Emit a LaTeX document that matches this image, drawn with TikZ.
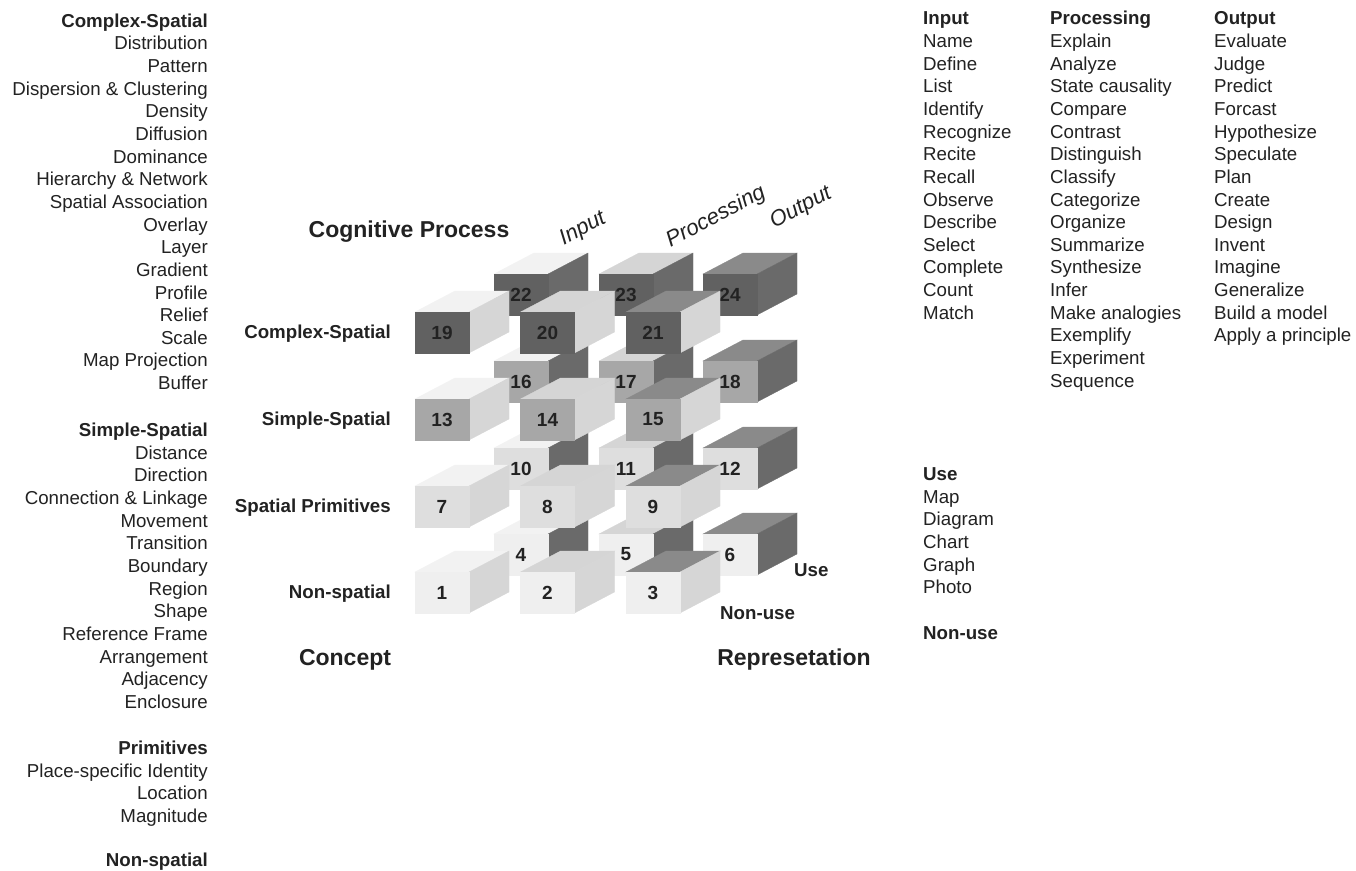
\documentclass[tikz,border=0pt]{standalone}
\usepackage{fontspec}
\setmainfont{Liberation Sans}
\definecolor{fA}{HTML}{616161}
\definecolor{fB}{HTML}{A7A7A7}
\definecolor{fC}{HTML}{DEDEDE}
\definecolor{fD}{HTML}{EFEFEF}
\definecolor{tIn}{HTML}{F2F2F2}
\definecolor{tPr}{HTML}{D5D5D5}
\definecolor{tOut}{HTML}{8A8A8A}
\definecolor{sNon}{HTML}{D6D6D6}
\definecolor{sUse}{HTML}{6A6A6A}
\definecolor{ink}{HTML}{222222}
\tikzset{
  item/.style={font=\fontsize{18.7}{22}\selectfont, text=ink, inner sep=0pt},
  head/.style={font=\bfseries\fontsize{18.7}{22}\selectfont, text=ink, inner sep=0pt},
  big/.style={font=\bfseries\fontsize{23}{26}\selectfont, text=ink, inner sep=0pt},
  axislab/.style={font=\itshape\fontsize{22}{24}\selectfont, text=ink, inner sep=0pt, rotate=28},
  num/.style={font=\bfseries\fontsize{19}{22}\selectfont, text=ink, inner sep=0pt},
}
% #1 name, #2 x, #3 y (front face top-left, pixels), #4 front, #5 top, #6 side, #7 label
\newcommand{\mycube}[7]{%
  \filldraw[fill=#5, draw=#5, line width=0.3pt] (#2,#3) -- ++(54,0) -- ++(40,-21) -- ++(-54,0) -- cycle;
  \filldraw[fill=#6, draw=#6, line width=0.3pt] (#2+54,#3) -- ++(40,-21) -- ++(0,41) -- ++(-40,21) -- cycle;
  \filldraw[fill=#4, draw=#4, line width=0.3pt] (#2,#3) rectangle ++(54,41);
  \node[num] (#1) at (#2+27,#3+20.5) {#7};
}
\begin{document}
\begin{tikzpicture}[x=1pt, y=-1pt]
\fill[white] (0,0) rectangle (1356,870);
\useasboundingbox (0,0) rectangle (1356,870);

% ---------- cubes: back row (Use) ----------
\mycube{c22}{494}{274}{fA}{tIn}{sUse}{22}
\mycube{c23}{599}{274}{fA}{tPr}{sUse}{23}
\mycube{c24}{703}{274}{fA}{tOut}{sUse}{24}
\mycube{c16}{494}{361}{fB}{tIn}{sUse}{16}
\mycube{c17}{599}{361}{fB}{tPr}{sUse}{17}
\mycube{c18}{703}{361}{fB}{tOut}{sUse}{18}
\mycube{c10}{494}{448}{fC}{tIn}{sUse}{10}
\mycube{c11}{599}{448}{fC}{tPr}{sUse}{11}
\mycube{c12}{703}{448}{fC}{tOut}{sUse}{12}
\mycube{c4}{494}{534}{fD}{tIn}{sUse}{4}
\mycube{c5}{599}{534}{fD}{tPr}{sUse}{5}
\mycube{c6}{703}{534}{fD}{tOut}{sUse}{6}
% ---------- cubes: front row (Non-use) ----------
\mycube{c19}{415}{312}{fA}{tIn}{sNon}{19}
\mycube{c20}{520.5}{312}{fA}{tPr}{sNon}{20}
\mycube{c21}{626}{312}{fA}{tOut}{sNon}{21}
\mycube{c13}{415}{399}{fB}{tIn}{sNon}{13}
\mycube{c14}{520.5}{399}{fB}{tPr}{sNon}{14}
\mycube{c15}{626}{399}{fB}{tOut}{sNon}{15}
\mycube{c7}{415}{486}{fC}{tIn}{sNon}{7}
\mycube{c8}{520.5}{486}{fC}{tPr}{sNon}{8}
\mycube{c9}{626}{486}{fC}{tOut}{sNon}{9}
\mycube{c1}{415}{572}{fD}{tIn}{sNon}{1}
\mycube{c2}{520.5}{572}{fD}{tPr}{sNon}{2}
\mycube{c3}{626}{572}{fD}{tOut}{sNon}{3}

% ---------- axis labels ----------
\node[big] (cogproc) at (409,232) {Cognitive Process};
\node[axislab] (axin) at (583,229) {Input};
\node[axislab] (axpr) at (716,217) {Processing};
\node[axislab] (axout) at (801,208) {Output};
\node[head, anchor=base east] (rl4) at (391,338) {Complex-Spatial};
\node[head, anchor=base east] (rl3) at (391,425) {Simple-Spatial};
\node[head, anchor=base east] (rl2) at (391,512) {Spatial Primitives};
\node[head, anchor=base east] (rl1) at (391,598) {Non-spatial};
\node[head, anchor=base west] (ruse) at (794,576.5) {Use};
\node[head, anchor=base west] (rnon) at (720,619.5) {Non-use};
\node[big] (concept) at (345,660) {Concept};
\node[big] (repres) at (794,660) {Represetation};

% ---------- left lists ----------
\node[head, anchor=base east] (hcs) at (208,27.2) {Complex-Spatial};
\foreach \t [count=\i] in {Distribution, Pattern, Dispersion \& Clustering, Density, Diffusion, Dominance, Hierarchy \& Network, Spatial Association, Overlay, Layer, Gradient, Profile, Relief, Scale, Map Projection, Buffer}
  \node[item, anchor=base east] (cs\i) at (208,27.2+\i*22.65) {\t};
\node[head, anchor=base east] (hss) at (208,436.5) {Simple-Spatial};
\foreach \t [count=\i] in {Distance, Direction, Connection \& Linkage, Movement, Transition, Boundary, Region, Shape, Reference Frame, Arrangement, Adjacency, Enclosure}
  \node[item, anchor=base east] (ss\i) at (208,436.5+\i*22.65) {\t};
\node[head, anchor=base east] (hpr) at (208,754.5) {Primitives};
\foreach \t [count=\i] in {Place-specific Identity, Location, Magnitude}
  \node[item, anchor=base east] (pr\i) at (208,754.5+\i*22.65) {\t};
\node[head, anchor=base east] (hns) at (208,866.5) {Non-spatial};

% ---------- right lists ----------
\node[head, anchor=base west] (hin) at (923,24.8) {Input};
\foreach \t [count=\i] in {Name, Define, List, Identify, Recognize, Recite, Recall, Observe, Describe, Select, Complete, Count, Match}
  \node[item, anchor=base west] (in\i) at (923,24.8+\i*22.65) {\t};
\node[head, anchor=base west] (hpc) at (1050,24.8) {Processing};
\foreach \t [count=\i] in {Explain, Analyze, State causality, Compare, Contrast, Distinguish, Classify, Categorize, Organize, Summarize, Synthesize, Infer, Make analogies, Exemplify, Experiment, Sequence}
  \node[item, anchor=base west] (pc\i) at (1050,24.8+\i*22.65) {\t};
\node[head, anchor=base west] (hout) at (1214,24.8) {Output};
\foreach \t [count=\i] in {Evaluate, Judge, Predict, Forcast, Hypothesize, Speculate, Plan, Create, Design, Invent, Imagine, Generalize, Build a model, Apply a principle}
  \node[item, anchor=base west] (ou\i) at (1214,24.8+\i*22.65) {\t};
\node[head, anchor=base west] (huse) at (923,480.5) {Use};
\foreach \t [count=\i] in {Map, Diagram, Chart, Graph, Photo}
  \node[item, anchor=base west] (us\i) at (923,480.5+\i*22.65) {\t};
\node[head, anchor=base west] (hnon) at (923,639.5) {Non-use};
\end{tikzpicture}
\end{document}
